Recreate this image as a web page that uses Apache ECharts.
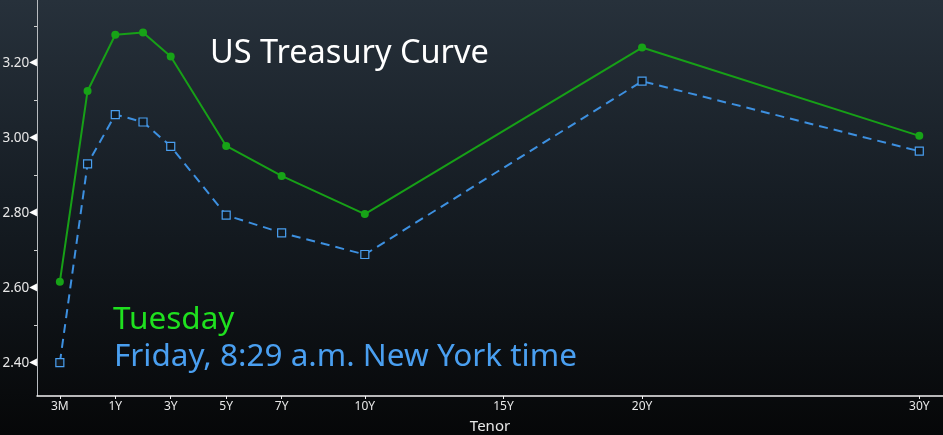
<!DOCTYPE html>
<html><head><meta charset="utf-8">
<script src="https://cdn.jsdelivr.net/npm/echarts@6/dist/echarts.min.js"></script>
<style>
html,body{margin:0;padding:0;}
#c{width:943px;height:435px;background:linear-gradient(to bottom,#27313b 0%,#161d24 45%,#060708 100%);}
</style></head>
<body><div id="c"></div>
<script>
// Tenor positions on Bloomberg-style axis (3M and 6M placed before 1Y)
var tenorLabels = ['3M','6M','1Y','2Y','3Y','5Y','7Y','10Y','20Y','30Y'];
var tenorPos    = [-1, 0, 1, 2, 3, 5, 7, 10, 20, 30];
var tuesday = [2.616, 3.126, 3.276, 3.282, 3.218, 2.979, 2.899, 2.797, 3.242, 3.006];
var friday  = [2.400, 2.931, 3.063, 3.043, 2.978, 2.794, 2.747, 2.689, 3.152, 2.965];
var xTickPos = [-1, 1, 3, 5, 7, 10, 15, 20, 30];
var xTickText = {'-1':'3M','1':'1Y','3':'3Y','5':'5Y','7':'7Y','10':'10Y','15':'15Y','20':'20Y','30':'30Y'};
var yLabelVals = [2.4, 2.6, 2.8, 3.0, 3.2];
var yTickVals = [2.4, 2.5, 2.6, 2.7, 2.8, 2.9, 3.0, 3.1, 3.2, 3.3];

function pairs(vals){ return vals.map(function(v,i){ return [tenorPos[i], v]; }); }

var chart = echarts.init(document.getElementById('c'), null, {renderer:'canvas'});
var font = 'Noto Sans';
chart.setOption({
  backgroundColor: 'transparent',
  animation: false,
  title: [
    {text:'US Treasury Curve', left:210, top:37, padding:0, textStyle:{color:'#ffffff', fontFamily:font, fontSize:32.5, fontWeight:'normal'}},
    {text:'Tuesday', left:113, top:304, padding:0, textStyle:{color:'#1fe01f', fontFamily:font, fontSize:31.5, fontWeight:'normal'}},
    {text:'Friday, 8:29 a.m. New York time', left:114, top:341, padding:0, textStyle:{color:'#4a9ff0', fontFamily:font, fontSize:31.5, fontWeight:'normal'}}
  ],
  grid: {left:37, right:0, top:0, bottom:39, containLabel:false, outerBoundsMode:'none'},
  xAxis: {
    type:'value', min:-1.824, max:30.855,
    name:'Tenor', nameLocation:'middle', nameGap:23,
    nameTextStyle:{color:'#e8e8e8', fontFamily:font, fontSize:15},
    splitLine:{show:false},
    axisLine:{show:true, onZero:false, lineStyle:{color:'#f2f2f2', width:1.5}},
    axisTick:{show:true, length:3, customValues:xTickPos, lineStyle:{color:'#f2f2f2'}},
    axisLabel:{show:true, customValues:xTickPos, margin:5, color:'#e8e8e8', fontFamily:font, fontSize:12,
      formatter:function(v){ return xTickText[String(v)] || ''; }}
  },
  yAxis: {
    type:'value', min:2.311, max:3.369,
    splitLine:{show:false},
    axisLine:{show:true, onZero:false, lineStyle:{color:'#b8bcc0', width:1}},
    axisTick:{show:true, length:3, customValues:yTickVals, lineStyle:{color:'#d0d0d0'}},
    axisLabel:{show:true, customValues:yLabelVals, margin:0, fontFamily:font,
      formatter:function(v){ return '{v|' + v.toFixed(2) + '}{t|◀}'; },
      rich:{v:{color:'#e8e8e8', fontSize:13.5, fontFamily:font}, t:{color:'#ffffff', fontSize:10, fontFamily:'DejaVu Sans', padding:[0,0,1,0]}}
    }
  },
  series: [
    {type:'line', name:'Tuesday', data:pairs(tuesday), symbol:'circle', symbolSize:8,
      lineStyle:{color:'#17a017', width:2}, itemStyle:{color:'#17a317'}, z:3},
    {type:'line', name:'Friday', data:pairs(friday), symbol:'rect', symbolSize:8,
      lineStyle:{color:'#3d90e0', width:2, type:[9,6]},
      itemStyle:{color:'#121a21', borderColor:'#4a9ff0', borderWidth:1.2}, z:2}
  ]
});
</script></body></html>
